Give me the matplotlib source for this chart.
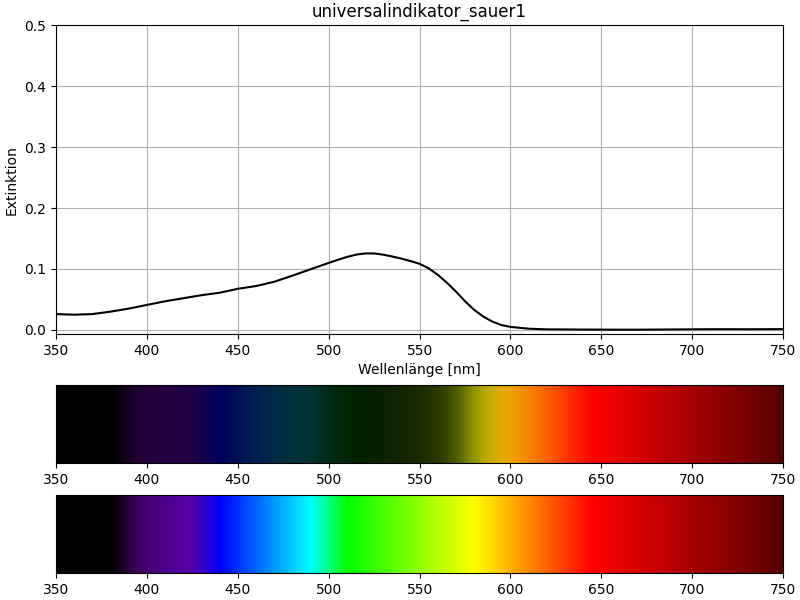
import numpy as np
import matplotlib
matplotlib.use("Agg")
import matplotlib.pyplot as plt

TITEL = "universalindikator_sauer1"
wellenlaenge = [350, 360, 370, 380, 390, 400, 410, 420, 430, 440,
                450, 460, 470, 480, 490, 500, 505, 510, 515, 520, 525, 530, 535, 540, 545,
                550, 555, 560, 565, 570, 575, 580, 585, 590, 595, 600, 610, 620, 630, 640,
                650, 660, 670, 680, 690, 700, 710, 720, 730, 740, 750]
extinktion = [0.026, 0.025, 0.026, 0.030, 0.035, 0.041, 0.047, 0.052, 0.057, 0.061,
              0.0675, 0.072, 0.079, 0.089, 0.0995, 0.110, 0.115, 0.1197, 0.1235, 0.1255, 0.1255,
              0.1235, 0.1205, 0.117, 0.113,
              0.1085, 0.101, 0.0905, 0.0775, 0.063, 0.047, 0.033, 0.022, 0.0137, 0.008,
              0.005, 0.002, 0.001, 0.0008, 0.0006,
              0.0005, 0.0004, 0.0004, 0.0006, 0.0008, 0.001, 0.0012, 0.0012, 0.0011, 0.0012, 0.0013]
x_ticks = [350, 400, 450, 500, 550, 600, 650, 700, 750]
y_ticks = [0.0, 0.1, 0.2, 0.3, 0.4, 0.5]

# Stuetzstellen der Spektralfarben (Naeherung)
farb_wl = [350, 380, 395, 410, 425, 440, 490, 510, 580, 645, 750]
farb_r = [0.0, 0.0, 0.25, 0.31, 0.33, 0.0, 0.0, 0.0, 1.0, 1.0, 0.35]
farb_g = [0.0, 0.0, 0.0, 0.0, 0.0, 0.0, 1.0, 1.0, 1.0, 0.0, 0.0]
farb_b = [0.0, 0.0, 0.38, 0.56, 0.66, 1.0, 1.0, 0.0, 0.0, 0.0, 0.0]

wl_fein = np.arange(350, 751, 1)
spektrum = np.stack([np.interp(wl_fein, farb_wl, farb_r),
                     np.interp(wl_fein, farb_wl, farb_g),
                     np.interp(wl_fein, farb_wl, farb_b)], axis=1)
transmission = 10 ** (-7.0 * np.interp(wl_fein, wellenlaenge, extinktion))
gefiltert = spektrum * transmission[:, None]

fig = plt.figure(figsize=(8, 6), dpi=100)

ax = fig.add_axes([0.07, 0.443, 0.909, 0.515])
ax.plot(wellenlaenge, extinktion, color="black", linewidth=1.5)
ax.set_xlim(350, 750)
ax.set_ylim(-0.007, 0.5)
ax.set_xticks(x_ticks)
ax.set_yticks(y_ticks)
ax.grid(True)
ax.set_title(TITEL)
ax.set_xlabel("Wellenlänge [nm]")
ax.set_ylabel("Extinktion")

# Farbbalken: gefiltertes Licht und volles Spektrum
for unten, farben in [(0.2283, gefiltert), (0.045, spektrum)]:
    axb = fig.add_axes([0.07, unten, 0.909, 0.13])
    axb.imshow(farben[None, :, :], extent=[350, 750, 0, 1], aspect="auto",
               interpolation="bilinear")
    axb.set_xlim(350, 750)
    axb.set_xticks(x_ticks)
    axb.set_yticks([])

plt.savefig("out.png", dpi=100)
